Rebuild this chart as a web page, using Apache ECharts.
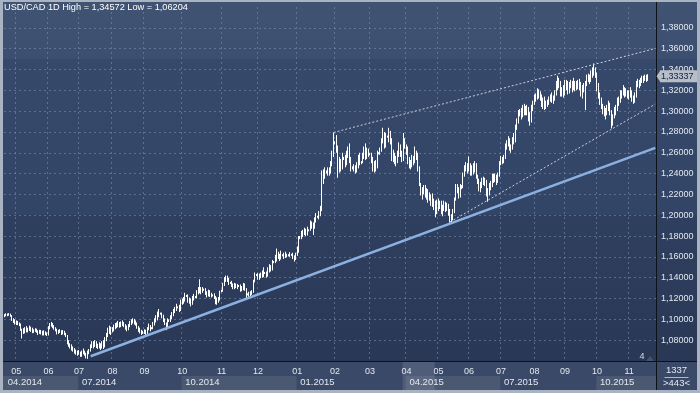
<!DOCTYPE html>
<html>
<head>
<meta charset="utf-8">
<script src="https://cdn.jsdelivr.net/npm/echarts@6.0.0/dist/echarts.min.js"></script>
<style>
html,body{margin:0;padding:0;background:#aab3c2;overflow:hidden;}
#chart{width:700px;height:393px;}
</style>
</head>
<body>
<div id="chart"></div>
<script>
const FONT = "'Liberation Sans', Arial, sans-serif";

// ---------- texts ----------
const titleText = 'USD/CAD 1D High = 1,34572 Low = 1,06204';
const lastPrice = 1.33337;
const lastPriceText = '1,33337';
const footerTop = '1337';
const footerBottom = '>443<';
const markerText = '4';

// ---------- calendar of the bars (weekdays, plus Sunday sessions in the winter) ----------
const FIRST_DAY = '2014-04-21';
const LAST_SLOT = '2015-11-26';          // last empty slot on the right
const SUNDAY_FROM = '2014-08-31';
const SUNDAY_TO = '2015-03-15';

// ---------- prices (pips above 1.0000) ----------
const opens = [
1030,1040,1050,1045,1052,1038,1000,990,
960,975,960,955,905,880,900,880,905,895,925,910,885,890,905,880,870,890,875,860,880,865,
850,920,950,955,935,915,900,870,885,890,870,880,860,845,790,760,745,720,710,700,680,
670,680,660,675,690,660,650,680,700,730,760,740,770,745,735,750,725,760,740,800,850,880,900,
880,900,920,935,940,960,935,950,965,940,925,905,935,960,975,990,975,955,930,900,885,870,
875,880,870,905,930,910,915,950,985,1010,1040,1060,1055,1030,995,960,935,985,990,1010,1040,1070,1100,1120,1115,1090,
1170,1180,1190,1230,1225,1175,1190,1150,1200,1210,1215,1260,1290,1280,1270,1290,1285,1250,1235,1270,1230,1235,1230,1215,1160,1190,1185,
1265,1270,1335,1390,1405,1385,1355,1350,1325,1305,1330,1315,1325,1320,1290,1300,1330,1290,1235,1240,1230,1245,1260,1365,1430,
1425,1390,1420,1410,1435,1440,1445,1420,1460,1510,1480,1555,1550,1580,1625,1610,1580,1620,1615,1605,1620,1610,1615,1625,1620,1600,1580,
1620,1650,1780,1785,1810,1835,1840,1820,1860,1855,1920,1905,1880,1945,1990,1985,2010,2050,2330,2370,2420,2415,2405,2430,2480,2580,
2690,2695,2660,2430,2500,2460,2550,2545,2500,2580,2630,2530,2450,2455,2440,2430,2470,2550,2500,2505,2560,2620,2560,2610,
2590,2585,2540,2470,2500,2460,2600,2595,2620,2720,2760,2660,2760,2755,2780,2720,2560,2580,2530,2510,2590,2650,2590,2530,2720,
2670,2640,2520,2490,2480,2540,2510,2590,2580,2460,2300,2220,2240,2270,2200,2230,2180,2190,2110,2150,2070,2120,
2070,2130,2110,2050,2070,2120,2070,2100,2040,1990,1960,2030,2150,2280,2250,2180,2270,2270,2390,2450,2470,
2440,2480,2400,2420,2450,2490,2380,2340,2250,2290,2320,2340,2320,2240,2200,2280,2280,2380,2350,2370,2330,2390,
2490,2540,2520,2550,2650,2700,2710,2640,2640,2720,2720,2850,2900,2990,2990,2960,3020,3000,3010,3010,2950,2900,3030,
3080,3140,3130,3190,3150,3150,3070,3070,3070,3060,3080,3120,3120,3120,3110,3180,3240,3300,3270,3160,3170,
3160,3250,3260,3190,3240,3270,3220,3270,3240,3250,3250,3270,3160,3200,3240,3250,3320,3330,3310,3340,3380,3380,
3360,3230,3150,3100,3050,3000,2990,2970,3040,3060,2990,2870,2940,3000,3010,3100,3100,3170,3160,3210,3180,3180,
3150,3150,3180,3120,3100,3140,3260,3280,3250,3290,3310,3300,3320,3310
];
const closes = [
1040,1050,1045,1052,1038,1000,990,960,
975,960,955,905,880,900,880,905,895,925,910,885,890,905,880,870,890,875,860,880,865,850,
920,950,955,935,915,900,870,885,890,870,880,860,845,790,760,745,720,710,700,680,670,
680,660,675,690,660,650,680,700,730,760,740,770,745,735,750,725,760,740,800,850,880,900,880,
900,920,935,940,960,935,950,965,940,925,905,935,960,975,990,975,955,930,900,885,870,875,
880,870,905,930,910,915,950,985,1010,1040,1060,1055,1030,995,960,935,985,990,1010,1040,1070,1100,1120,1115,1090,1170,
1180,1190,1230,1225,1175,1190,1150,1200,1210,1215,1260,1290,1280,1270,1290,1285,1250,1235,1270,1230,1235,1230,1215,1160,1190,1185,1265,
1270,1335,1390,1405,1385,1355,1350,1325,1305,1330,1315,1325,1320,1290,1300,1330,1290,1235,1240,1230,1245,1260,1365,1430,1425,
1390,1420,1410,1435,1440,1445,1420,1460,1510,1480,1555,1550,1580,1625,1610,1580,1620,1615,1605,1620,1610,1615,1625,1620,1600,1580,1620,
1650,1780,1785,1810,1835,1840,1820,1860,1855,1920,1905,1880,1945,1990,1985,2010,2050,2330,2370,2420,2415,2405,2430,2480,2580,2690,
2695,2660,2430,2500,2460,2550,2545,2500,2580,2630,2530,2450,2455,2440,2430,2470,2550,2500,2505,2560,2620,2560,2610,2590,
2585,2540,2470,2500,2460,2600,2595,2620,2720,2760,2660,2760,2755,2780,2720,2560,2580,2530,2510,2590,2650,2590,2530,2720,2670,
2640,2520,2490,2480,2540,2510,2590,2580,2460,2300,2220,2240,2270,2200,2230,2180,2190,2110,2150,2070,2120,2070,
2130,2110,2050,2070,2120,2070,2100,2040,1990,1960,2030,2150,2280,2250,2180,2270,2270,2390,2450,2470,2440,
2480,2400,2420,2450,2490,2380,2340,2250,2290,2320,2340,2320,2240,2200,2280,2280,2380,2350,2370,2330,2390,2490,
2540,2520,2550,2650,2700,2710,2640,2640,2720,2720,2850,2900,2990,2990,2960,3020,3000,3010,3010,2950,2900,3030,3080,
3140,3130,3190,3150,3150,3070,3070,3070,3060,3080,3120,3120,3120,3110,3180,3240,3300,3270,3160,3170,3160,
3250,3260,3190,3240,3270,3220,3270,3240,3250,3250,3270,3160,3200,3240,3250,3320,3330,3310,3340,3380,3380,3360,
3230,3150,3100,3050,3000,2990,2970,3040,3060,2990,2870,2940,3000,3010,3100,3100,3170,3160,3210,3180,3180,3150,
3150,3180,3120,3100,3140,3260,3280,3250,3290,3310,3300,3320,3310,3333.7
];
const lows = [
1020,1030,1030,1035,1025,985,965,950,
945,945,935,890,816,860,865,875,875,890,880,867,870,880,870,850,860,855,845,845,848,840,
845,905,930,915,900,885,855,860,870,850,855,848,830,760,736,720,700,690,670,660,650,
660,640,640,665,650,625,620.4,665,690,725,720,735,725,715,720,705,720,715,730,790,830,860,850,
875,885,905,915,925,920,925,935,925,900,885,895,925,945,960,950,940,910,880,865,850,860,
860,835,860,895,885,905,905,940,970,990,1020,1045,1010,975,945,896,925,975,975,1000,1030,1060,1080,1105,1070,1080,
1140,1150,1170,1215,1160,1150,1125,1140,1180,1205,1200,1240,1250,1240,1255,1275,1235,1210,1220,1215,1210,1220,1195,1145,1140,1160,1180,
1260,1265,1320,1360,1360,1330,1340,1310,1290,1290,1300,1290,1310,1265,1270,1280,1275,1200,1230,1215,1220,1235,1255,1355,1415,
1380,1380,1395,1400,1405,1435,1400,1410,1450,1460,1470,1540,1540,1555,1580,1560,1575,1605,1580,1590,1595,1605,1600,1610,1580,1555,1570,
1610,1640,1770,1770,1790,1810,1800,1805,1845,1850,1870,1810,1870,1930,1975,1960,1990,2040,2300,2350,2400,2380,2380,2400,2470,2560,
2680,2600,2360,2410,2420,2440,2530,2460,2480,2550,2500,2420,2440,2420,2400,2410,2450,2480,2490,2500,2540,2530,2540,2560,
2575,2500,2420,2410,2420,2450,2585,2580,2610,2690,2640,2650,2745,2700,2680,2520,2510,2490,2470,2500,2560,2560,2510,2520,2640,
2580,2490,2450,2440,2460,2480,2500,2530,2420,2280,2190,2150,2200,2170,2150,2120,2140,2090,2080,2050,1980,2010,
2040,2060,2010,1990,2040,2030,2040,1995,1930,1927,1950,2020,2140,2210,2160,2170,2250,2260,2370,2420,2400,
2420,2380,2380,2390,2410,2350,2300,2230,2220,2260,2290,2280,2180,2130,2190,2240,2270,2310,2320,2290,2310,2370,
2480,2490,2500,2540,2630,2660,2620,2600,2630,2680,2700,2820,2880,2950,2920,2940,2960,2960,2960,2900,2860,2890,3000,
3060,3090,3110,3120,3100,3040,3020,3010,3020,3040,3060,3090,3080,3070,3100,3150,3200,3220,3140,3140,3130,
3150,3200,3160,3170,3220,3180,3200,3190,3200,3210,3200,3140,3120,3180,3010,3240,3280,3260,3280,3320,3340,3320,
3190,3120,3060,3020,2970,2950,2920,2960,3000,2960,2834,2860,2930,2960,3000,3050,3080,3120,3150,3130,3140,3120,
3110,3130,3090,3070,3080,3130,3230,3220,3240,3270,3270,3290,3280,3290
];
const highs = [
1050,1058,1056,1060,1055,1040,1010,1000,
990,985,970,960,910,915,925,935,920,940,930,920,905,915,910,895,900,898,890,895,885,875,
935,965,976,965,945,925,910,900,905,895,898,890,870,850,800,770,760,740,725,710,700,
705,690,700,720,700,680,700,715,760,790,790,800,790,765,780,770,790,800,830,870,920,940,930,
925,950,965,970,985,975,980,990,975,955,940,955,985,1000,1010,1005,990,970,935,920,900,890,
905,900,925,960,945,925,975,1010,1040,1075,1100,1065,1065,1045,1010,970,1010,1000,1040,1070,1100,1120,1150,1125,1140,1190,
1200,1215,1255,1235,1240,1210,1200,1225,1245,1225,1280,1310,1385,1310,1310,1295,1300,1270,1285,1280,1255,1240,1250,1225,1210,1215,1275,
1285,1350,1405,1420,1420,1400,1360,1370,1345,1350,1345,1340,1330,1335,1320,1350,1345,1300,1250,1265,1270,1280,1380,1450,1435,
1445,1440,1450,1470,1500,1455,1460,1500,1530,1520,1570,1560,1620,1680,1650,1630,1660,1625,1640,1650,1630,1625,1645,1630,1640,1615,1640,
1700,1800,1800,1850,1860,1880,1870,1890,1865,1950,1940,1930,1980,2020,1995,2040,2090,2430,2440,2460,2430,2460,2460,2520,2620,2795,
2710,2770,2670,2560,2540,2600,2560,2580,2620,2660,2690,2560,2470,2490,2480,2510,2580,2600,2520,2600,2660,2690,2650,2640,
2595,2600,2560,2520,2530,2620,2605,2650,2740,2840,2800,2790,2765,2840,2810,2740,2630,2600,2570,2620,2700,2680,2620,2790,2740,
2680,2660,2560,2530,2580,2570,2660,2620,2600,2470,2310,2270,2290,2290,2260,2250,2220,2200,2210,2160,2140,2150,
2160,2140,2140,2100,2140,2130,2120,2110,2060,2010,2060,2170,2300,2300,2270,2300,2290,2410,2480,2510,2500,
2565,2500,2480,2500,2520,2500,2390,2350,2320,2360,2370,2360,2340,2260,2310,2330,2400,2400,2400,2390,2410,2520,
2570,2560,2580,2690,2720,2760,2740,2680,2750,2790,2870,2930,3010,3020,3030,3060,3070,3050,3060,3040,2990,3060,3100,
3160,3170,3220,3210,3190,3160,3130,3140,3100,3110,3140,3160,3180,3150,3200,3290,3340,3320,3290,3230,3250,
3300,3300,3290,3280,3300,3290,3320,3290,3290,3300,3310,3280,3250,3270,3290,3350,3360,3350,3390,3420,3457.2,3420,
3370,3270,3180,3130,3070,3050,3030,3060,3100,3080,3010,2970,3040,3060,3130,3140,3200,3200,3250,3230,3220,3200,
3200,3230,3200,3150,3180,3290,3310,3300,3320,3340,3340,3350,3350,3355
];

// ---------- trend lines drawn on the chart ----------
const supportDates = ['2014-07-11', '2015-11-26'];
const supportValues = [1.0646, 1.2647];
const upperChannelDates = ['2015-01-30', '2015-11-26'];
const upperChannelValues = [1.2795, 1.3602];
const lowerChannelDates = ['2015-05-13', '2015-11-26'];
const lowerChannelValues = [1.1936, 1.3067];

// ---------- price axis ----------
const Y_MIN = 1.06, Y_MAX = 1.40, Y_STEP = 0.02;
const Y_LABEL_FIRST = 1.08, Y_LABEL_LAST = 1.38;

// ---------- build categories ----------
function buildCategories() {
  const out = [];
  const toT = s => Date.parse(s + 'T00:00:00Z');
  const end = toT(LAST_SLOT), s0 = toT(SUNDAY_FROM), s1 = toT(SUNDAY_TO);
  for (let t = toT(FIRST_DAY); t <= end; t += 86400000) {
    const wd = new Date(t).getUTCDay();
    if ((wd >= 1 && wd <= 5) || (wd === 0 && t >= s0 && t <= s1)) {
      out.push(new Date(t).toISOString().slice(0, 10));
    }
  }
  return out;
}
const categories = buildCategories();
const P = p => 1 + p / 10000;
const candles = closes.map((c, i) => [P(opens[i]), P(c), P(lows[i]), P(highs[i])]);

const monthOf = i => categories[i].slice(0, 7);
const isMonthStart = i => i > 0 && monthOf(i) !== monthOf(i - 1);
const isQuarterStart = i => i === 0 || (isMonthStart(i) && ['01', '04', '07', '10'].includes(categories[i].slice(5, 7)));

const gridLine = { color: 'rgba(125,145,178,0.55)', type: [2, 3], width: 1 };
const labelColor = '#e3e8f0';

const chart = echarts.init(document.getElementById('chart'), null, { width: 700, height: 393 });

const option = {
  animation: false,
  backgroundColor: '#aab3c2',
  title: {
    text: titleText, left: 4, top: 3, padding: 0,
    textStyle: { color: '#ffffff', fontSize: 9.2, fontWeight: 'normal', fontFamily: FONT }
  },
  grid: { left: 4, right: 44, top: 7, bottom: 32, containLabel: false },
  xAxis: [
    {
      type: 'category', data: categories, boundaryGap: true,
      axisLine: { show: false }, axisTick: { show: false },
      axisLabel: {
        interval: (i) => isMonthStart(i),
        formatter: v => v.slice(5, 7),
        color: labelColor, fontSize: 9, fontFamily: FONT, margin: 5, lineHeight: 11
      },
      splitLine: { show: true, interval: (i) => isMonthStart(i), lineStyle: gridLine }
    },
    {
      type: 'category', data: categories, boundaryGap: true, position: 'bottom', offset: 14,
      axisLine: { show: false }, axisTick: { show: false }, splitLine: { show: false },
      axisLabel: {
        interval: (i) => isQuarterStart(i),
        formatter: v => v.slice(5, 7) + '.' + v.slice(0, 4),
        align: 'left', padding: [0, 0, 0, 3],
        color: labelColor, fontSize: 9.5, fontFamily: FONT, margin: 2, lineHeight: 11
      }
    }
  ],
  yAxis: {
    type: 'value', position: 'right', min: Y_MIN, max: Y_MAX, interval: Y_STEP, scale: true,
    axisLine: { show: false }, axisTick: { show: false },
    axisLabel: {
      margin: 5, color: labelColor, fontSize: 9, fontFamily: FONT,
      formatter: v => (v < Y_LABEL_FIRST - 0.001 || v > Y_LABEL_LAST + 0.001) ? '' : v.toFixed(5).replace('.', ',')
    },
    splitLine: { show: true, showMinLine: false, showMaxLine: false, lineStyle: gridLine }
  },
  series: [{
    type: 'candlestick',
    data: candles,
    barWidth: 1.1,
    itemStyle: { color: '#ffffff', color0: '#ffffff', borderColor: '#ffffff', borderColor0: '#ffffff', borderWidth: 1 },
    markLine: {
      silent: true, symbol: ['none', 'none'], animation: false,
      label: { show: false },
      data: [
        [
          { coord: [supportDates[0], supportValues[0]], lineStyle: { color: '#8cb0e0', width: 2.5, type: 'solid' } },
          { coord: [supportDates[1], supportValues[1]] }
        ],
        [
          { coord: [upperChannelDates[0], upperChannelValues[0]], lineStyle: { color: '#c9ced8', width: 1, type: [2, 2] } },
          { coord: [upperChannelDates[1], upperChannelValues[1]] }
        ],
        [
          { coord: [lowerChannelDates[0], lowerChannelValues[0]], lineStyle: { color: '#c9ced8', width: 1, type: [2, 2] } },
          { coord: [lowerChannelDates[1], lowerChannelValues[1]] }
        ]
      ]
    }
  }]
};
chart.setOption(option);

// ---------- panels and decorations placed from the axis scale ----------
const catX = i => chart.convertToPixel({ xAxisIndex: 0 }, categories[i]);
const slot = catX(1) - catX(0);
const edgeX = i => catX(i) - slot / 2;
const plotRight = edgeX(categories.length - 1) + slot;
const plotBottom = chart.convertToPixel({ yAxisIndex: 0 }, Y_MIN);

const bandGradient = {
  type: 'linear', x: 0, y: 0, x2: 0, y2: 1,
  colorStops: [
    { offset: 0, color: '#405373' }, { offset: 0.157, color: '#3d4f70' },
    { offset: 0.160, color: '#37496a' }, { offset: 0.590, color: '#334566' },
    { offset: 0.594, color: '#2f3f5f' }, { offset: 1, color: '#2a3856' }
  ]
};
const graphics = [
  { type: 'rect', z: -100, silent: true, shape: { x: 3, y: 2, width: plotRight - 3, height: plotBottom - 2 }, style: { fill: bandGradient } },
  { type: 'rect', z: -100, silent: true, shape: { x: plotRight + 1, y: 2, width: 697 - plotRight - 1, height: plotBottom - 2 }, style: { fill: bandGradient } },
  { type: 'rect', z: -100, silent: true, shape: { x: 3, y: plotBottom, width: 694, height: 390 - plotBottom }, style: { fill: '#3a4967' } }
];
const qStarts = categories.map((_, i) => i).filter(isQuarterStart);
qStarts.forEach((s, k) => {
  if (k % 2 !== 0) return;
  const x0 = k === 0 ? 3 : edgeX(s);
  const x1 = k + 1 < qStarts.length ? edgeX(qStarts[k + 1]) : plotRight;
  graphics.push({ type: 'rect', z: -90, silent: true, shape: { x: x0, y: plotBottom + 15, width: x1 - x0, height: 390 - plotBottom - 15 }, style: { fill: '#4b5872' } });
});
// hovered month column in the time strip
const hoverStart = categories.indexOf('2015-04-01');
const hoverEnd = categories.indexOf('2015-05-01');
graphics.push({ type: 'rect', z: -80, silent: true, shape: { x: edgeX(hoverStart) - 3, y: plotBottom + 1, width: edgeX(hoverEnd) - edgeX(hoverStart), height: 390 - plotBottom - 1 }, style: { fill: 'rgba(190,200,215,0.16)' } });
// separators
graphics.push({ type: 'line', z: 50, silent: true, shape: { x1: plotRight + 0.5, y1: 2, x2: plotRight + 0.5, y2: 390 }, style: { stroke: '#0d1118', lineWidth: 1 } });
graphics.push({ type: 'line', z: 50, silent: true, shape: { x1: 3, y1: plotBottom + 0.5, x2: 697, y2: plotBottom + 0.5 }, style: { stroke: '#0d1118', lineWidth: 1 } });
// footer box
const fx = (plotRight + 697) / 2;
graphics.push({ type: 'text', z: 60, silent: true, style: { text: footerTop, x: fx, y: plotBottom + 9, align: 'center', verticalAlign: 'middle', fill: '#e3e8f0', font: '9.5px ' + FONT } });
graphics.push({ type: 'line', z: 60, silent: true, shape: { x1: fx - 12, y1: plotBottom + 16.5, x2: fx + 12, y2: plotBottom + 16.5 }, style: { stroke: '#aeb8c8', lineWidth: 1 } });
graphics.push({ type: 'text', z: 60, silent: true, style: { text: footerBottom, x: fx, y: plotBottom + 22.5, align: 'center', verticalAlign: 'middle', fill: '#e3e8f0', font: '9.5px ' + FONT } });
// small marker at the bottom right of the plot
graphics.push({ type: 'text', z: 60, silent: true, style: { text: markerText, x: plotRight - 14, y: plotBottom - 4, align: 'center', verticalAlign: 'middle', fill: '#d5dce8', font: '9px ' + FONT } });
graphics.push({ type: 'polygon', z: 60, silent: true, shape: { points: [[plotRight - 10, plotBottom], [plotRight - 6, plotBottom - 5], [plotRight - 2, plotBottom]] }, style: { fill: '#46536d' } });
// last price box on the price axis
const py = chart.convertToPixel({ yAxisIndex: 0 }, lastPrice);
graphics.push({ type: 'rect', z: 70, silent: true, shape: { x: plotRight + 4, y: py - 6, width: 697 - plotRight - 4, height: 12 }, style: { fill: '#b7bec9' } });
graphics.push({ type: 'polygon', z: 70, silent: true, shape: { points: [[plotRight + 0.5, py], [plotRight + 4.5, py - 6], [plotRight + 4.5, py + 6]] }, style: { fill: '#b7bec9' } });
graphics.push({ type: 'text', z: 71, silent: true, style: { text: lastPriceText, x: plotRight + 5, y: py + 0.5, align: 'left', verticalAlign: 'middle', fill: '#16213a', font: '9px ' + FONT } });

chart.setOption({ graphic: graphics });
</script>
</body>
</html>
